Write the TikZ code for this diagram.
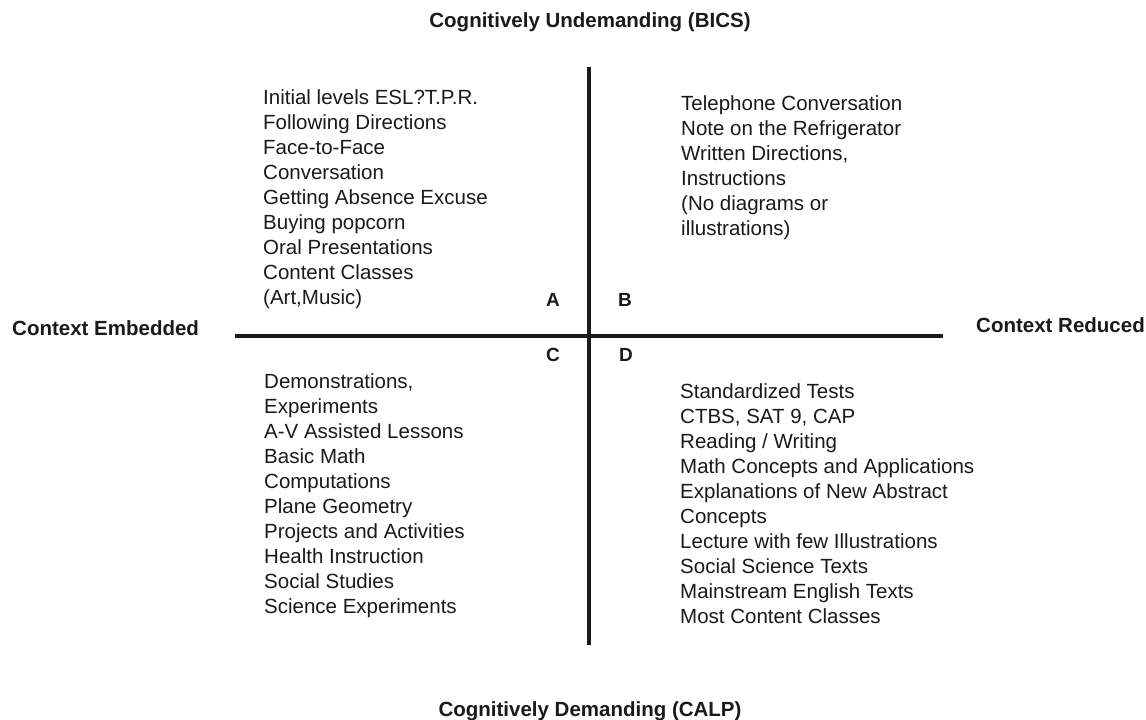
\documentclass[tikz,border=0pt]{standalone}
\usepackage{fontspec}
\setmainfont{Liberation Sans}
\definecolor{ink}{HTML}{1A1A1A}
\tikzset{
  axis/.style={line width=3.5pt, draw=ink},
  title/.style={font=\fontsize{20.5}{25}\selectfont\bfseries, text=ink, inner sep=0pt},
  quad/.style={font=\fontsize{20.5}{25}\selectfont, text=ink, inner sep=0pt, align=left, anchor=north west},
  letter/.style={font=\fontsize{19}{23}\selectfont\bfseries, text=ink, inner sep=0pt},
}
\begin{document}
\begin{tikzpicture}[x=1pt,y=-1pt]
\useasboundingbox (0,0) rectangle (1146,720);
\fill[white] (0,0) rectangle (1146,720);
% axes
\coordinate (top) at (589,67);
\coordinate (bot) at (589,645);
\coordinate (lft) at (235,336);
\coordinate (rgt) at (943,336);
\draw[axis] (top) -- (bot);
\draw[axis] (lft) -- (rgt);
% titles
\node[title] (tt) at (590,22) {Cognitively Undemanding (BICS)};
\node[title] (bt) at (590,711) {Cognitively Demanding (CALP)};
\node[title, anchor=west] (ce) at (12,328) {Context Embedded};
\node[title, anchor=east] (cr) at (1145,325) {Context Reduced};
% quadrant letters
\node[letter] (la) at (553,300) {A};
\node[letter] (lb) at (625,300) {B};
\node[letter] (lc) at (553,355) {C};
\node[letter] (ld) at (626,355) {D};
% quadrant texts
\node[quad] (qa) at (263,89) {Initial levels ESL?T.P.R.\\Following Directions\\Face-to-Face\\Conversation\\Getting Absence Excuse\\Buying popcorn\\Oral Presentations\\Content Classes\\(Art,Music)};
\node[quad] (qb) at (681,95) {Telephone Conversation\\Note on the Refrigerator\\Written Directions,\\Instructions\\(No diagrams or\\illustrations)};
\node[quad] (qc) at (264,373) {Demonstrations,\\Experiments\\A-V Assisted Lessons\\Basic Math\\Computations\\Plane Geometry\\Projects and Activities\\Health Instruction\\Social Studies\\Science Experiments};
\node[quad] (qd) at (680,383) {Standardized Tests\\CTBS, SAT 9, CAP\\Reading / Writing\\Math Concepts and Applications\\Explanations of New Abstract\\Concepts\\Lecture with few Illustrations\\Social Science Texts\\Mainstream English Texts\\Most Content Classes};
\end{tikzpicture}
\end{document}
